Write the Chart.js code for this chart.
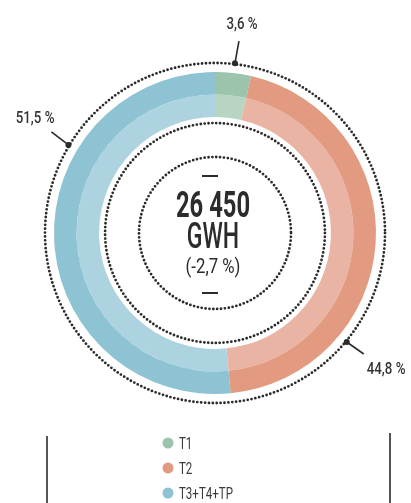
<!DOCTYPE html>
<html>
<head>
<meta charset="utf-8">
<script src="https://cdn.jsdelivr.net/npm/chart.js@4"></script>
<style>
  html, body { margin: 0; padding: 0; background: #fff; }
  #wrap { width: 411px; height: 503px; position: relative; }
</style>
</head>
<body>
<div id="wrap"><canvas id="chart"></canvas></div>
<script>
"use strict";

// Data
const categories = ["T1", "T2", "T3+T4+TP"];
const shares = [3.6, 44.8, 51.5];
const shareLabels = ["3,6 %", "44,8 %", "51,5 %"];
const totalValue = "26 450";
const totalUnit = "GWH";
const totalChange = "(-2,7 %)";

// Colours: outer (darker) band and inner (lighter) band
const darkColors = ["#9cc4ac", "#e29b80", "#8ec3d3"];
const lightColors = ["#b8d5c3", "#e9b4a3", "#acd3df"];
const ink = "#2b2b2b";

// Draw text squeezed horizontally to mimic a condensed face
function drawText(ctx, text, x, y, font, sx, align) {
  ctx.save();
  ctx.translate(x, y);
  ctx.scale(sx, 1);
  ctx.font = font;
  ctx.textAlign = align || "center";
  ctx.textBaseline = "alphabetic";
  ctx.fillText(text, 0, 0);
  ctx.restore();
}

function dottedCircle(ctx, cx, cy, r) {
  ctx.save();
  ctx.beginPath();
  ctx.arc(cx, cy, r, 0, Math.PI * 2);
  ctx.setLineDash([0, 3.9]);
  ctx.lineCap = "round";
  ctx.lineWidth = 2.8;
  ctx.strokeStyle = ink;
  ctx.stroke();
  ctx.restore();
}

const decorPlugin = {
  id: "decor",
  afterDraw(chart) {
    const ctx = chart.ctx;
    const outer = chart.getDatasetMeta(0).data[0];
    const inner = chart.getDatasetMeta(1).data[0];
    const cx = outer.x;
    const cy = outer.y;
    const rOut = outer.outerRadius;
    const rIn = inner.innerRadius;

    // dotted rings
    dottedCircle(ctx, cx, cy, rOut + 9);
    dottedCircle(ctx, cx, cy, rIn - 6);
    dottedCircle(ctx, cx, cy, 76);

    // centre text
    ctx.fillStyle = ink;
    drawText(ctx, totalValue, cx - 2, cy - 16, "bold 36px Roboto", 0.66);
    drawText(ctx, totalUnit, cx - 2, cy + 15, "500 36px Roboto", 0.64);
    drawText(ctx, totalChange, cx - 2, cy + 40, "21px Roboto", 0.8);
    ctx.fillRect(cx - 13, cy - 58, 16, 2);
    ctx.fillRect(cx - 13, cy + 59, 16, 2);

    // leader lines with dots on the outer dotted ring
    const rDot = rOut + 10;
    const leaders = [
      { ang: 6.7, dx: 4, dy: -22, tx: 7, ty: -34, align: "center" },
      { ang: 129.6, dx: 17, dy: 12, tx: 20, ty: 32, align: "left" },
      { ang: 301, dx: -17, dy: -13, tx: -14, ty: -22, align: "right" }
    ];
    leaders.forEach((l, i) => {
      const a = (l.ang - 90) * Math.PI / 180;
      const px = cx + rDot * Math.cos(a);
      const py = cy + rDot * Math.sin(a);
      ctx.save();
      ctx.strokeStyle = ink;
      ctx.fillStyle = ink;
      ctx.lineWidth = 1.6;
      ctx.beginPath();
      ctx.moveTo(px, py);
      ctx.lineTo(px + l.dx, py + l.dy);
      ctx.stroke();
      ctx.beginPath();
      ctx.arc(px, py, 3, 0, Math.PI * 2);
      ctx.fill();
      ctx.restore();
      ctx.fillStyle = "#333";
      drawText(ctx, shareLabels[i], px + l.tx, py + l.ty, "500 17px Roboto", 0.78, l.align);
    });

    // legend
    categories.forEach((c, i) => {
      const y = 443 + i * 25;
      ctx.fillStyle = darkColors[i];
      ctx.beginPath();
      ctx.arc(168, y, 5.5, 0, Math.PI * 2);
      ctx.fill();
      ctx.fillStyle = "#3a3a3a";
      drawText(ctx, c, 179, y + 6, "16px Roboto", 0.72, "left");
    });

    // side rules
    ctx.fillStyle = "#555";
    ctx.fillRect(46, 436, 2, 67);
    ctx.fillRect(389, 433, 2, 70);
  }
};

const ctx = document.getElementById("chart").getContext("2d");
new Chart(ctx, {
  type: "doughnut",
  data: {
    labels: categories,
    datasets: [
      { data: shares, backgroundColor: darkColors, borderWidth: 0, weight: 1 },
      { data: shares, backgroundColor: lightColors, borderWidth: 0, weight: 1 }
    ]
  },
  options: {
    responsive: true,
    maintainAspectRatio: false,
    animation: false,
    events: [],
    cutout: "72%",
    layout: { padding: { left: 54, right: 35, top: 72, bottom: 109 } },
    plugins: {
      legend: { display: false },
      tooltip: { enabled: false }
    }
  },
  plugins: [decorPlugin]
});
</script>
</body>
</html>
